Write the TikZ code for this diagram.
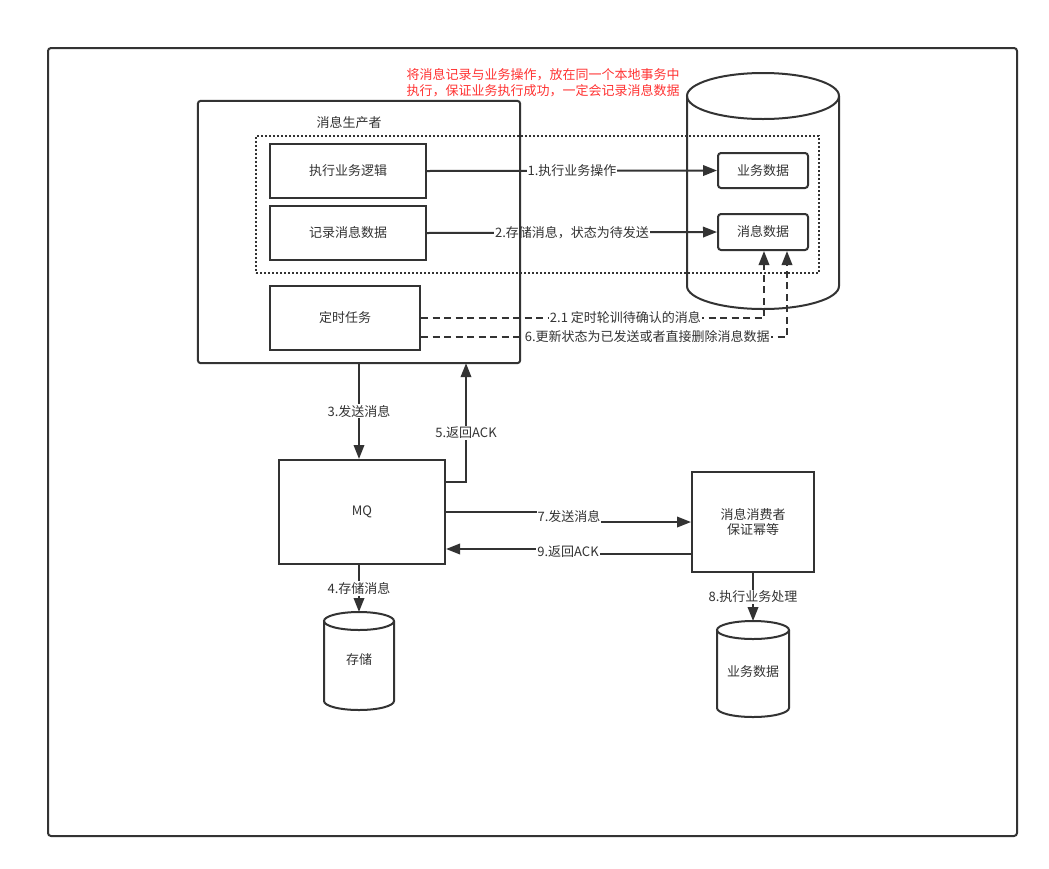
\documentclass[tikz,border=0pt]{standalone}
\usepackage{fontspec}
\setmainfont{Noto Sans CJK SC}
\usetikzlibrary{arrows.meta,calc}
\definecolor{ink}{HTML}{333333}
\definecolor{redtxt}{HTML}{FF3333}
\begin{document}
\begin{tikzpicture}[x=1pt,y=-1pt,
  font=\fontsize{13}{15.7}\selectfont, text=ink,
  bx/.style={draw=ink, line width=2pt, inner sep=0pt},
  rbx/.style={bx, rounded corners=3pt},
  arr/.style={draw=ink, line width=2pt, -{Triangle[length=14pt,width=10.5pt]}},
  dsh/.style={arr, dash pattern=on 7pt off 4.5pt},
  lbl/.style={fill=white, inner sep=1pt, text=ink},
  cyl/.style={draw=ink, line width=2pt}]
\fill[white] (0,0) rectangle (1049,868);
\useasboundingbox (0,0) rectangle (1049,868);
% outer frame
\draw[draw=ink, line width=2pt, rounded corners=3pt] (48,48) rectangle (1017,836);
% note
\node[text=redtxt, align=center, inner sep=0pt] (note) at (543,82.5)
  {将消息记录与业务操作，放在同一个本地事务中\\执行，保证业务执行成功，一定会记录消息数据};
% producer (border drawn at end)
\node[minimum width=322pt, minimum height=262pt, inner sep=0pt] (prod) at (359,232) {};
\node (prodlbl) at (349,123) {消息生产者};
% big database cylinder
\draw[cyl] (687,96) -- (687,286) arc[start angle=180, end angle=360, x radius=76pt, y radius=23pt] -- (839,96);
\draw[cyl] (763,96) ellipse[x radius=76pt, y radius=23pt];
% dotted transaction frame
\node[draw=ink, line width=1.8pt, dash pattern=on 1.8pt off 2.2pt, minimum width=563pt, minimum height=137pt, inner sep=0pt] (tx) at (537.5,204.5) {};
% boxes
\node[bx, minimum width=156pt, minimum height=54pt] (exec) at (348,171) {执行业务逻辑};
\node[bx, minimum width=156pt, minimum height=54pt] (rec) at (348,233) {记录消息数据};
\node[bx, minimum width=150pt, minimum height=64pt] (timer) at (345,318) {定时任务};
\node[rbx, fill=white, minimum width=90pt, minimum height=35pt] (biz) at (763,170.5) {业务数据};
\node[rbx, fill=white, minimum width=90pt, minimum height=36pt] (msg) at (763,232) {消息数据};
\node[bx, minimum width=166pt, minimum height=104pt] (mq) at (362,512) {MQ};
\node[bx, minimum width=122pt, minimum height=100pt, align=center, font=\fontsize{13}{14.5}\selectfont] (cons) at (753,522) {消息消费者\\保证幂等};
% small cylinders
\draw[cyl] (324,621) -- (324,701) arc[start angle=180, end angle=360, x radius=35pt, y radius=9pt] -- (394,621);
\draw[cyl] (359,621) ellipse[x radius=35pt, y radius=9pt];
\coordinate (stotop) at (359,612);
\node (stolbl) at (359,660) {存储};
\draw[cyl] (717,630) -- (717,708) arc[start angle=180, end angle=360, x radius=36pt, y radius=9pt] -- (789,630);
\draw[cyl] (753,630) ellipse[x radius=36pt, y radius=9pt];
\coordinate (biztop) at (753,621);
\node (bizlbl) at (753,672) {业务数据};
% connectors
\draw[arr] (exec.east) -- (biz.west) node[lbl, midway] (l1) {1.执行业务操作};
\draw[arr] (rec.east) -- (msg.west) node[lbl, midway] (l2) {2.存储消息，状态为待发送};
\draw[dsh] (timer.east) -| ([xshift=1pt]msg.south) node[lbl, pos=0.298] (l21) {2.1 定时轮训待确认的消息};
\draw[dsh] ([yshift=-19pt]timer.east) -| ([xshift=24pt]msg.south) node[lbl, pos=0.309] (l6) {6.更新状态为已发送或者直接删除消息数据};
\draw[arr] (prod.south) -- (prod.south |- mq.north) node[lbl, midway] (l3) {3.发送消息};
\draw[arr] ([yshift=-23pt]mq.north east) -| ([xshift=107pt]prod.south) node[lbl, pos=0.706] (l5) {5.返回ACK};
\draw[arr] (mq.east) -- ++(123,0) coordinate (k7) |- (cons.west);
\node[lbl] (l7) at ($(k7)+(0,5)$) {7.发送消息};
\draw[arr] ([yshift=-32pt]cons.west) -- ++(-123,0) coordinate (k9) |- ([yshift=-37pt]mq.east);
\node[lbl] (l9) at ($(k9)+(0,-2)$) {9.返回ACK};
\draw[arr] (stotop |- mq.south) -- (stotop) node[lbl, midway] (l4) {4.存储消息};
\draw[arr] (cons.south) -- (biztop) node[lbl, midway] (l8) {8.执行业务处理};
% producer border on top
\draw[draw=ink, line width=2pt, rounded corners=3pt] (prod.south west) rectangle (prod.north east);
\end{tikzpicture}
\end{document}
